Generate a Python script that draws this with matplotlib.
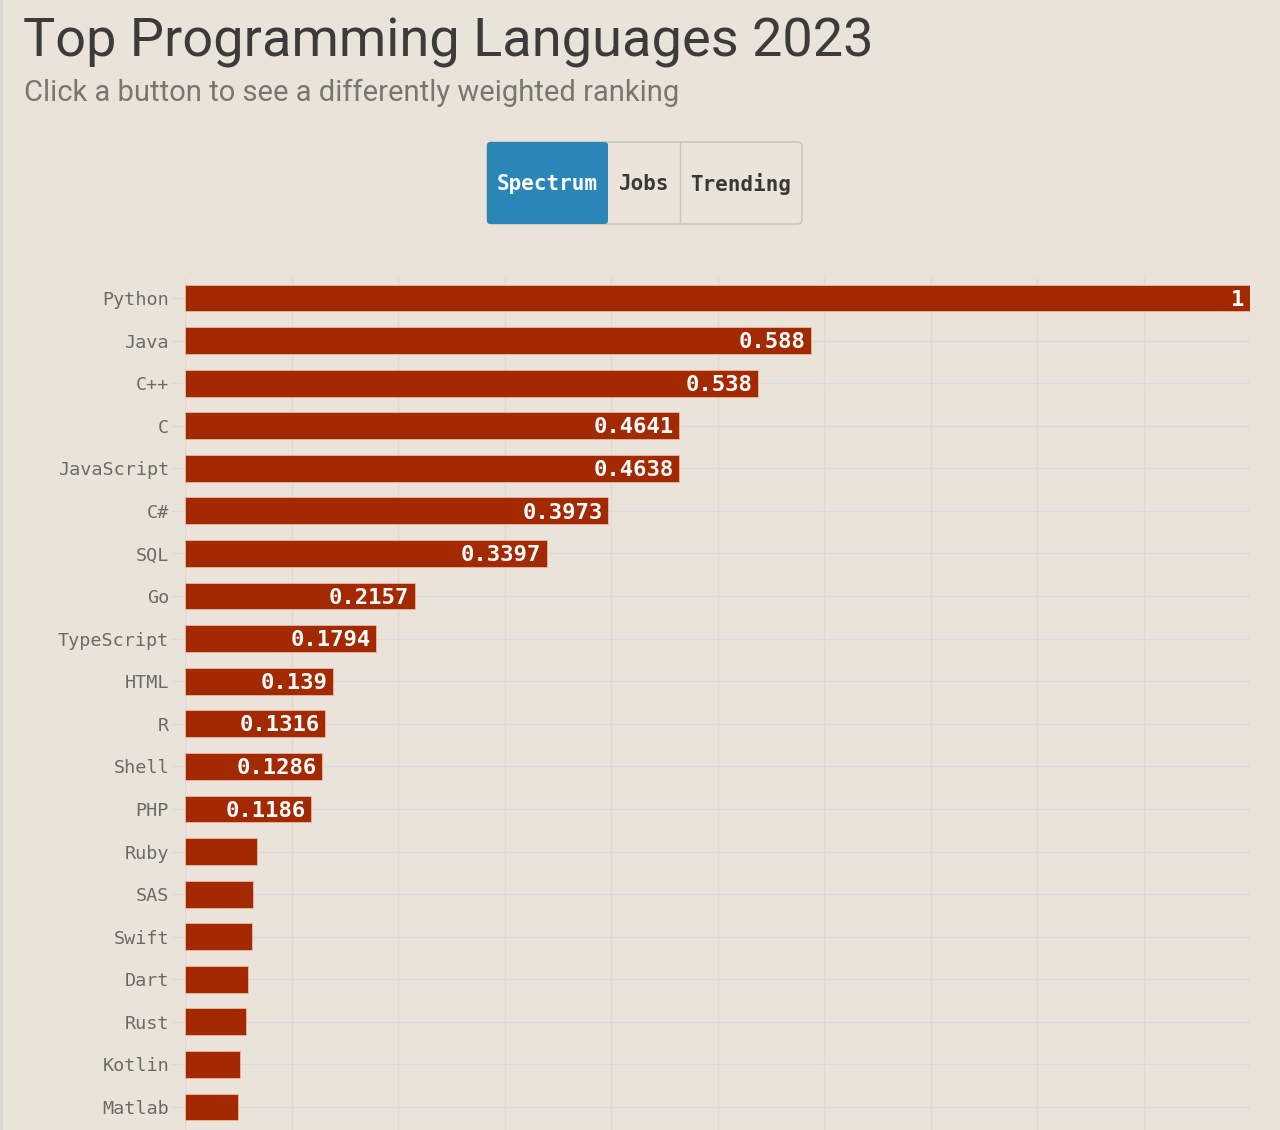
import matplotlib
matplotlib.use("Agg")
import matplotlib.pyplot as plt
from matplotlib.patches import FancyBboxPatch, Rectangle

languages = ["Python", "Java", "C++", "C", "JavaScript", "C#", "SQL", "Go",
             "TypeScript", "HTML", "R", "Shell", "PHP", "Ruby", "SAS", "Swift",
             "Dart", "Rust", "Kotlin", "Matlab"]
scores = [1, 0.588, 0.538, 0.4641, 0.4638, 0.3973, 0.3397, 0.2157,
          0.1794, 0.139, 0.1316, 0.1286, 0.1186, 0.068, 0.064, 0.063,
          0.059, 0.057, 0.052, 0.050]
score_labels = ["1", "0.588", "0.538", "0.4641", "0.4638", "0.3973", "0.3397",
                "0.2157", "0.1794", "0.139", "0.1316", "0.1286", "0.1186",
                "", "", "", "", "", "", ""]
buttons = ["Spectrum", "Jobs", "Trending"]

W, H = 1280, 1130
bg = "#eae3da"
bar_color = "#a32900"
grid_color = "#dbd9da"
mono = "DejaVu Sans Mono"

fig = plt.figure(figsize=(W / 100, H / 100), dpi=100, facecolor=bg)

# thin lighter strip on the left edge
fig.patches.append(Rectangle((0, 0), 3 / W, 1, transform=fig.transFigure,
                             facecolor="#d9d6d3", edgecolor="none"))

# title and subtitle
fig.text(23 / W, 1 - 42 / H, "Top Programming Languages 2023", family="Roboto",
         fontsize=39, color="#3d3b39", va="center", ha="left")
fig.text(24 / W, 1 - 93 / H, "Click a button to see a differently weighted ranking",
         family="Roboto", fontsize=21, color="#7a756f", va="center", ha="left")

# button group
edges = [487, 608, 680, 802]
top, bottom = 142, 224
box = FancyBboxPatch((edges[0] / W, 1 - bottom / H), (edges[-1] - edges[0]) / W,
                     (bottom - top) / H, boxstyle="round,pad=0,rounding_size=0.004",
                     transform=fig.transFigure, facecolor="#ebe4db",
                     edgecolor="#c9c5c0", linewidth=1.2)
fig.patches.append(box)
fig.patches.append(FancyBboxPatch((edges[0] / W, 1 - bottom / H),
                                  (edges[1] - edges[0]) / W, (bottom - top) / H,
                                  boxstyle="round,pad=0,rounding_size=0.003",
                                  transform=fig.transFigure, facecolor="#2a86b6",
                                  edgecolor="none"))
for xe in edges[2:3]:
    fig.lines.append(plt.Line2D([xe / W, xe / W], [1 - bottom / H, 1 - top / H],
                                transform=fig.transFigure, color="#c9c5c0", lw=1))
for i, name in enumerate(buttons):
    cx = (edges[i] + edges[i + 1]) / 2 / W
    fig.text(cx, 1 - 184 / H, name, family=mono, fontweight="bold", fontsize=15,
             color="#ffffff" if i == 0 else "#3a3735", ha="center", va="center")

# bar chart
ax_top, ax_bottom = 278, 1130
ax = fig.add_axes([185 / W, 1 - ax_bottom / H, (1250 - 185) / W, (ax_bottom - ax_top) / H])
ax.set_facecolor(bg)
ypos = list(range(len(languages)))
ax.barh(ypos, scores, height=0.63, color=bar_color, edgecolor="#e8b8a6",
        linewidth=0.6, zorder=3)
ax.set_xlim(0, 1)
ax.set_ylim(len(languages) - 1 + 0.54, -0.47)
ax.set_yticks(ypos)
ax.set_yticklabels(languages, family=mono, fontsize=13.3, color="#6d6964")
ax.set_xticks([i / 10 for i in range(11)])
ax.tick_params(axis="y", length=10, width=1, color=grid_color, pad=1.5)
ax.tick_params(axis="x", length=0, labelbottom=False)
ax.grid(True, color=grid_color, linewidth=1, zorder=0)
for s in ax.spines.values():
    s.set_visible(False)

for y, v, lab in zip(ypos, scores, score_labels):
    if lab:
        ax.annotate(lab, (v, y), xytext=(-4, -1.2), textcoords="offset points",
                    ha="right", va="center", family=mono, fontweight="bold",
                    fontsize=16, color="white", zorder=4)

fig.savefig("out.png", dpi=100, facecolor=bg)
